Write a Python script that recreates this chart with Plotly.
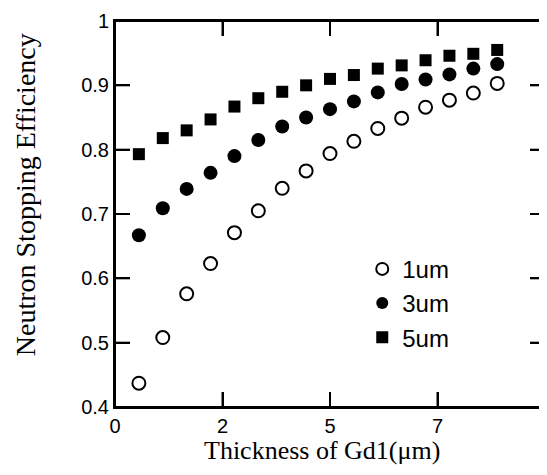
import plotly.graph_objects as go

thickness = [0.5, 1.0, 1.5, 2.0, 2.5, 3.0, 3.5, 4.0, 4.5, 5.0, 5.5, 6.0, 6.5, 7.0, 7.5, 8.0]
eff_1um = [0.437, 0.508, 0.576, 0.623, 0.671, 0.705, 0.740, 0.767, 0.794, 0.813, 0.833, 0.849, 0.866, 0.877, 0.888, 0.903]
eff_3um = [0.667, 0.709, 0.739, 0.764, 0.790, 0.815, 0.836, 0.850, 0.863, 0.875, 0.889, 0.902, 0.909, 0.917, 0.926, 0.933]
eff_5um = [0.793, 0.818, 0.830, 0.847, 0.867, 0.880, 0.890, 0.900, 0.910, 0.916, 0.926, 0.931, 0.939, 0.946, 0.949, 0.955]

x_range = [0, 9]
y_range = [0.4, 1.0]
x_tickvals = [0, 2.25, 4.5, 6.75, 9]
x_ticktext = ["0", "2", "5", "7", "9"]
y_tickvals = [0.4, 0.5, 0.6, 0.7, 0.8, 0.9, 1.0]
y_ticktext = ["0.4", "0.5", "0.6", "0.7", "0.8", "0.9", "1"]

W, H = 539, 467
M = dict(l=107, r=2, t=13, b=68)
TICK_PX = 15
LINE_PX = 2
plot_w = W - M["l"] - M["r"]
plot_h = H - M["t"] - M["b"]

# frame and inside ticks as thin filled rectangles (paper / axis refs)
hw = LINE_PX / 2.0
px_x = 1.0 / plot_w
px_y = 1.0 / plot_h
xunit = (x_range[1] - x_range[0]) / plot_w
yunit = (y_range[1] - y_range[0]) / plot_h
shape_style = dict(fillcolor="black", line=dict(width=0), layer="above", type="rect")
shapes = [
    dict(xref="paper", yref="paper", x0=-hw * px_x, x1=hw * px_x, y0=-hw * px_y, y1=1 + hw * px_y, **shape_style),
    dict(xref="paper", yref="paper", x0=1 - hw * px_x, x1=1 + hw * px_x, y0=-hw * px_y, y1=1 + hw * px_y, **shape_style),
    dict(xref="paper", yref="paper", x0=-hw * px_x, x1=1 + hw * px_x, y0=-hw * px_y, y1=hw * px_y, **shape_style),
    dict(xref="paper", yref="paper", x0=-hw * px_x, x1=1 + hw * px_x, y0=1 - hw * px_y, y1=1 + hw * px_y, **shape_style),
]
for v in x_tickvals[1:-1]:
    shapes.append(dict(xref="x", yref="paper", x0=v - hw * xunit, x1=v + hw * xunit,
                       y0=0, y1=TICK_PX * px_y, **shape_style))
    shapes.append(dict(xref="x", yref="paper", x0=v - hw * xunit, x1=v + hw * xunit,
                       y0=1 - TICK_PX * px_y, y1=1, **shape_style))
for v in y_tickvals[1:-1]:
    shapes.append(dict(xref="paper", yref="y", x0=0, x1=TICK_PX * px_x,
                       y0=v - hw * yunit, y1=v + hw * yunit, **shape_style))
    shapes.append(dict(xref="paper", yref="y", x0=1 - TICK_PX * px_x, x1=1,
                       y0=v - hw * yunit, y1=v + hw * yunit, **shape_style))

fig = go.Figure()
fig.add_trace(go.Scatter(x=thickness, y=eff_1um, mode="markers", name="1um",
                         marker=dict(symbol="circle-open", size=13, color="black", line=dict(width=2))))
fig.add_trace(go.Scatter(x=thickness, y=eff_3um, mode="markers", name="3um",
                         marker=dict(symbol="circle", size=14, color="black")))
fig.add_trace(go.Scatter(x=thickness, y=eff_5um, mode="markers", name="5um",
                         marker=dict(symbol="square", size=12, color="black")))

fig.update_layout(
    template="none",
    width=W, height=H,
    margin=M,
    paper_bgcolor="white", plot_bgcolor="white",
    showlegend=True,
    shapes=shapes,
    legend=dict(x=0.575, y=0.415, xanchor="left", yanchor="top", bgcolor="rgba(0,0,0,0)",
                font=dict(family="Liberation Sans, Arial", size=24, color="black"),
                itemsizing="constant", tracegroupgap=12),
    annotations=[
        dict(text="Thickness of Gd1(\u03bcm)", xref="paper", yref="paper", x=0.481, y=-0.112,
             xanchor="center", yanchor="middle", showarrow=False,
             font=dict(family="Liberation Serif, Times New Roman", size=26, color="black")),
        dict(text="Neutron Stopping Efficiency", xref="paper", yref="paper", x=-0.209, y=0.549,
             xanchor="center", yanchor="middle", showarrow=False, textangle=-90,
             font=dict(family="Liberation Serif, Times New Roman", size=28, color="black")),
    ],
)
fig.update_xaxes(range=x_range, tickmode="array", tickvals=x_tickvals, ticktext=x_ticktext,
                 showline=True, linecolor="#000000", linewidth=LINE_PX, mirror="ticks",
                 ticks="inside", ticklen=TICK_PX, tickwidth=LINE_PX, tickcolor="#000000",
                 showgrid=False, zeroline=False, ticklabeloverflow="allow",
                 tickfont=dict(family="Liberation Sans, Arial", size=20, color="black"))
fig.update_yaxes(range=y_range, tickmode="array", tickvals=y_tickvals, ticktext=y_ticktext,
                 showline=True, linecolor="#000000", linewidth=LINE_PX, mirror="ticks",
                 ticks="inside", ticklen=TICK_PX, tickwidth=LINE_PX, tickcolor="#000000",
                 showgrid=False, zeroline=False,
                 tickfont=dict(family="Liberation Sans, Arial", size=20, color="black"))

fig.write_html("out.html")
